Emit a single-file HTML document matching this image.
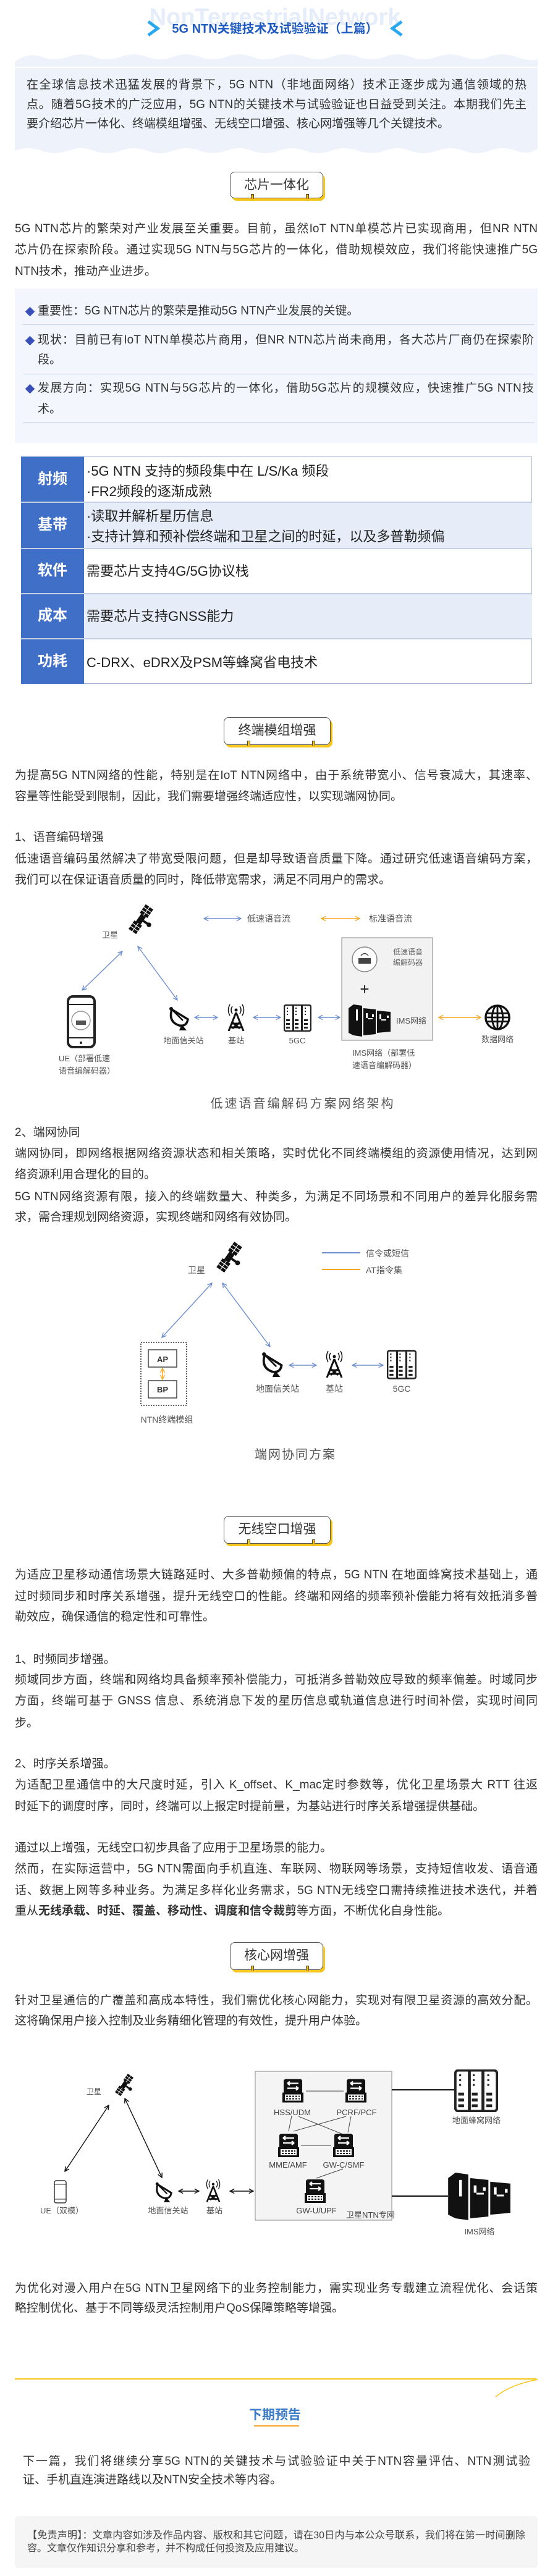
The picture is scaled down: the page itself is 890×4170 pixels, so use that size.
<!DOCTYPE html>
<html><head><meta charset="utf-8">
<style>
*{margin:0;padding:0;box-sizing:border-box}
html,body{width:890px;height:4170px;background:#fff;overflow:hidden}
body{position:relative;font-family:"Liberation Sans","Noto Sans CJK SC",sans-serif;color:#333}
.l{position:absolute;left:24px;width:846px;font-size:19px;line-height:34px;height:34px;white-space:normal;overflow:hidden}
.j{text-align:justify;text-align-last:justify}
.hd{position:absolute;background:#fff;border:1.5px solid #555;border-radius:8px;box-shadow:3px 4px 0 #f6c61c;font-size:21px;color:#333;text-align:center;line-height:42px}
.tab{position:absolute;bottom:-2px;width:5px;height:8px;background:#f6c61c;border:1px solid #444;border-bottom:none}
.sep{position:absolute;left:37px;width:827px;height:1px;background:#c6d6ea}
.dia{position:absolute;left:43px;width:11px;height:11px;background:#3a4fb8;transform:rotate(45deg)}
</style></head><body>

<div style="position:absolute;left:0;width:890px;top:8px;text-align:center;font:bold 38px 'Liberation Sans',sans-serif;color:#e5edfb;line-height:40px">NonTerrestrialNetwork</div>
<div style="position:absolute;left:0;width:890px;top:34px;text-align:center;font-weight:bold;font-size:20px;color:#1f5bc0;line-height:26px">5G NTN关键技术及试验验证（上篇）</div>
<svg style="position:absolute;left:0;top:0" width="890" height="260">
 <polyline points="240,35 255,46 240,57" fill="none" stroke="#29a8f0" stroke-width="5"/>
 <polyline points="650,35 635,46 650,57" fill="none" stroke="#29a8f0" stroke-width="5"/>
 <path d="M24,100 Q45,84 67,92 Q88,100 110,92 Q131,84 152,92 Q174,100 195,92 Q216,84 238,92 Q259,100 280,92 Q302,84 323,92 Q344,100 366,92 Q387,84 408,92 Q430,100 451,92 Q472,84 494,92 Q515,100 536,92 Q558,84 579,92 Q600,100 622,92 Q643,84 664,92 Q686,100 707,92 Q728,84 750,92 Q771,100 792,92 Q814,84 835,92 Q856,100 870,96 L870,108 L24,108 Z" fill="#eef3fb"/>
 <rect x="24" y="110" width="846" height="127" fill="#eef3fb"/>
 <path d="M24,237 L870,237 L870,240 Q856,252 835,244 Q814,236 792,244 Q771,252 750,244 Q728,236 707,244 Q686,252 664,244 Q643,236 622,244 Q600,252 579,244 Q558,236 536,244 Q515,252 494,244 Q472,236 451,244 Q430,252 408,244 Q387,236 366,244 Q344,252 323,244 Q302,236 280,244 Q259,252 238,244 Q216,236 195,244 Q174,252 152,244 Q131,236 110,244 Q88,252 67,244 Q45,236 24,244 Z" fill="#eef3fb"/>
</svg>
<div class="l j" style="left:43px;width:809px;top:121px">在全球信息技术迅猛发展的背景下，5G NTN（非地面网络）技术正逐步成为通信领域的热</div>
<div class="l j" style="left:43px;width:809px;top:153px">点。随着5G技术的广泛应用，5G NTN的关键技术与试验验证也日益受到关注。本期我们先主</div>
<div class="l" style="left:43px;width:809px;top:184px">要介绍芯片一体化、终端模组增强、无线空口增强、核心网增强等几个关键技术。</div>

<div class="hd" style="left:372px;top:278px;width:151px;height:43px">芯片一体化<div class="tab" style="left:33px"></div><div class="tab" style="left:122px"></div></div>

<div class="l j" style="top:354px">5G NTN芯片的繁荣对产业发展至关重要。目前，虽然IoT NTN单模芯片已实现商用，但NR NTN</div>
<div class="l j" style="top:388px">芯片仍在探索阶段。通过实现5G NTN与5G芯片的一体化，借助规模效应，我们将能快速推广5G</div>
<div class="l" style="top:423px">NTN技术，推动产业进步。</div>

<div style="position:absolute;left:24px;top:467px;width:846px;height:250px;background:#f3f7fd"></div>
<div class="dia" style="top:499px"></div>
<div class="l" style="left:61px;width:803px;top:487px">重要性：5G NTN芯片的繁荣是推动5G NTN产业发展的关键。</div>
<div class="sep" style="top:525px"></div>
<div class="dia" style="top:546px"></div>
<div class="l j" style="left:61px;width:803px;top:534px">现状：目前已有IoT NTN单模芯片商用，但NR NTN芯片尚未商用，各大芯片厂商仍在探索阶</div>
<div class="l" style="left:61px;width:803px;top:566px">段。</div>
<div class="sep" style="top:605px"></div>
<div class="dia" style="top:624px"></div>
<div class="l j" style="left:61px;width:803px;top:612px">发展方向：实现5G NTN与5G芯片的一体化，借助5G芯片的规模效应，快速推广5G NTN技</div>
<div class="l" style="left:61px;width:803px;top:646px">术。</div>
<div class="sep" style="top:683px"></div>

<div style="position:absolute;left:34px;top:739px;width:827px;height:368px;border:1.5px solid #9fb2d3"></div>
<div style="position:absolute;left:34px;top:739px;width:102px;height:368px;background:#3f6fc6"></div>
<div style="position:absolute;left:136px;top:812px;width:725px;height:75px;background:#e6edf8"></div>
<div style="position:absolute;left:136px;top:960px;width:725px;height:73px;background:#e6edf8"></div>
<div style="position:absolute;left:34px;top:812px;width:827px;height:2px;background:#c3d0e6"></div>
<div style="position:absolute;left:34px;top:887px;width:827px;height:2px;background:#c3d0e6"></div>
<div style="position:absolute;left:34px;top:960px;width:827px;height:2px;background:#c3d0e6"></div>
<div style="position:absolute;left:34px;top:1033px;width:827px;height:2px;background:#c3d0e6"></div>
<div style="position:absolute;left:34px;width:102px;top:758px;text-align:center;color:#fff;font-weight:bold;font-size:24px;line-height:36px">射频</div>
<div style="position:absolute;left:34px;width:102px;top:832px;text-align:center;color:#fff;font-weight:bold;font-size:24px;line-height:36px">基带</div>
<div style="position:absolute;left:34px;width:102px;top:906px;text-align:center;color:#fff;font-weight:bold;font-size:24px;line-height:36px">软件</div>
<div style="position:absolute;left:34px;width:102px;top:979px;text-align:center;color:#fff;font-weight:bold;font-size:24px;line-height:36px">成本</div>
<div style="position:absolute;left:34px;width:102px;top:1053px;text-align:center;color:#fff;font-weight:bold;font-size:24px;line-height:36px">功耗</div>
<div style="position:absolute;left:140px;top:746px;font-size:22px;line-height:33px;color:#222">·5G NTN 支持的频段集中在 L/S/Ka 频段<br>·FR2频段的逐渐成熟</div>
<div style="position:absolute;left:140px;top:819px;font-size:22px;line-height:33px;color:#222">·读取并解析星历信息<br>·支持计算和预补偿终端和卫星之间的时延，以及多普勒频偏</div>
<div style="position:absolute;left:140px;top:908px;font-size:22px;line-height:33px;color:#222">需要芯片支持4G/5G协议栈</div>
<div style="position:absolute;left:140px;top:981px;font-size:22px;line-height:33px;color:#222">需要芯片支持GNSS能力</div>
<div style="position:absolute;left:140px;top:1056px;font-size:22px;line-height:33px;color:#222">C-DRX、eDRX及PSM等蜂窝省电技术</div>

<div class="hd" style="left:362px;top:1161px;width:173px;height:45px">终端模组增强<div class="tab" style="left:37px"></div><div class="tab" style="left:142px"></div></div>
<div class="l j" style="top:1239px">为提高5G NTN网络的性能，特别是在IoT NTN网络中，由于系统带宽小、信号衰减大，其速率、</div>
<div class="l" style="top:1273px">容量等性能受到限制，因此，我们需要增强终端适应性，以实现端网协同。</div>
<div class="l" style="top:1339px">1、语音编码增强</div>
<div class="l j" style="top:1374px">低速语音编码虽然解决了带宽受限问题，但是却导致语音质量下降。通过研究低速语音编码方案，</div>
<div class="l" style="top:1408px">我们可以在保证语音质量的同时，降低带宽需求，满足不同用户的需求。</div>
<div style="position:absolute;left:0;width:980px;top:1770px;text-align:center;font-size:20px;letter-spacing:3px;color:#555">低速语音编解码方案网络架构</div>
<div class="l" style="top:1817px">2、端网协同</div>
<div class="l j" style="top:1851px">端网协同，即网络根据网络资源状态和相关策略，实时优化不同终端模组的资源使用情况，达到网</div>
<div class="l" style="top:1885px">络资源利用合理化的目的。</div>
<div class="l j" style="top:1921px">5G NTN网络资源有限，接入的终端数量大、种类多，为满足不同场景和不同用户的差异化服务需</div>
<div class="l" style="top:1954px">求，需合理规划网络资源，实现终端和网络有效协同。</div>
<div style="position:absolute;left:0;width:956px;top:2338px;text-align:center;font-size:20px;letter-spacing:2px;color:#555">端网协同方案</div>

<div class="hd" style="left:362px;top:2454px;width:173px;height:45px">无线空口增强<div class="tab" style="left:37px"></div><div class="tab" style="left:142px"></div></div>
<div class="l j" style="top:2533px">为适应卫星移动通信场景大链路延时、大多普勒频偏的特点，5G NTN 在地面蜂窝技术基础上，通</div>
<div class="l j" style="top:2568px">过时频同步和时序关系增强，提升无线空口的性能。终端和网络的频率预补偿能力将有效抵消多普</div>
<div class="l" style="top:2601px">勒效应，确保通信的稳定性和可靠性。</div>
<div class="l" style="top:2670px">1、时频同步增强。</div>
<div class="l j" style="top:2703px">频域同步方面，终端和网络均具备频率预补偿能力，可抵消多普勒效应导致的频率偏差。时域同步</div>
<div class="l j" style="top:2737px">方面，终端可基于 GNSS 信息、系统消息下发的星历信息或轨道信息进行时间补偿，实现时间同</div>
<div class="l" style="top:2773px">步。</div>
<div class="l" style="top:2839px">2、时序关系增强。</div>
<div class="l j" style="top:2873px">为适配卫星通信中的大尺度时延，引入 K_offset、K_mac定时参数等，优化卫星场景大 RTT 往返</div>
<div class="l" style="top:2908px">时延下的调度时序，同时，终端可以上报定时提前量，为基站进行时序关系增强提供基础。</div>
<div class="l" style="top:2975px">通过以上增强，无线空口初步具备了应用于卫星场景的能力。</div>
<div class="l j" style="top:3009px">然而，在实际运营中，5G NTN需面向手机直连、车联网、物联网等场景，支持短信收发、语音通</div>
<div class="l j" style="top:3044px">话、数据上网等多种业务。为满足多样化业务需求，5G NTN无线空口需持续推进技术迭代，并着</div>
<div class="l" style="top:3077px">重从<b>无线承载、时延、覆盖、移动性、调度和信令裁剪</b>等方面，不断优化自身性能。</div>

<div class="hd" style="left:372px;top:3144px;width:151px;height:45px">核心网增强<div class="tab" style="left:33px"></div><div class="tab" style="left:122px"></div></div>
<div class="l j" style="top:3222px">针对卫星通信的广覆盖和高成本特性，我们需优化核心网能力，实现对有限卫星资源的高效分配。</div>
<div class="l" style="top:3255px">这将确保用户接入控制及业务精细化管理的有效性，提升用户体验。</div>
<div class="l j" style="top:3688px">为优化对漫入用户在5G NTN卫星网络下的业务控制能力，需实现业务专载建立流程优化、会话策</div>
<div class="l" style="top:3720px">略控制优化、基于不同等级灵活控制用户QoS保障策略等增强。</div>

<div style="position:absolute;left:0;width:890px;top:3896px;text-align:center;font-weight:bold;font-size:21px;color:#3d7cc9;line-height:28px">下期预告</div>
<div style="position:absolute;left:411px;top:3926px;width:73px;height:2px;background:#f5a623"></div>
<div class="l j" style="left:37px;width:821px;top:3968px">下一篇，我们将继续分享5G NTN的关键技术与试验验证中关于NTN容量评估、NTN测试验</div>
<div class="l" style="left:37px;width:821px;top:3998px">证、手机直连演进路线以及NTN安全技术等内容。</div>
<div style="position:absolute;left:24px;top:4073px;width:846px;height:84px;background:#f5f5f5;border-radius:6px"></div>
<div class="l j" style="left:44px;width:806px;top:4094px;font-size:16px;line-height:22px;height:22px;color:#444">【免责声明】：文章内容如涉及作品内容、版权和其它问题，请在30日内与本公众号联系，我们将在第一时间删除内</div>
<div class="l" style="left:44px;width:806px;top:4115px;font-size:16px;line-height:22px;height:22px;color:#444">容。文章仅作知识分享和参考，并不构成任何投资及应用建议。</div>

<svg style="position:absolute;left:0;top:0" width="890" height="4170" font-family="Liberation Sans,Noto Sans CJK SC,sans-serif">
<defs>
 <marker id="ab" viewBox="0 0 10 10" refX="9" refY="5" markerWidth="9" markerHeight="9" orient="auto-start-reverse" markerUnits="userSpaceOnUse"><path d="M1,1 L9,5 L1,9" fill="none" stroke="#6d8fd0" stroke-width="1.5"/></marker>
 <marker id="ao" viewBox="0 0 10 10" refX="9" refY="5" markerWidth="9" markerHeight="9" orient="auto-start-reverse" markerUnits="userSpaceOnUse"><path d="M1,1 L9,5 L1,9" fill="none" stroke="#f5a623" stroke-width="1.5"/></marker>
 <marker id="ak" viewBox="0 0 10 10" refX="9" refY="5" markerWidth="9" markerHeight="9" orient="auto-start-reverse" markerUnits="userSpaceOnUse"><path d="M1,1 L9,5 L1,9" fill="none" stroke="#111" stroke-width="1.6"/></marker>
 <symbol id="sat" viewBox="-30 -30 60 60">
  <g transform="rotate(-55)" fill="#111">
   <rect x="-26" y="-8" width="18" height="16"/><rect x="8" y="-8" width="18" height="16"/>
   <rect x="-8" y="-5" width="16" height="10"/>
   <g stroke="#fff" stroke-width="1.2"><line x1="-20" y1="-8" x2="-20" y2="8"/><line x1="-14" y1="-8" x2="-14" y2="8"/><line x1="-26" y1="0" x2="-8" y2="0"/><line x1="14" y1="-8" x2="14" y2="8"/><line x1="20" y1="-8" x2="20" y2="8"/><line x1="8" y1="0" x2="26" y2="0"/></g>
   <rect x="-2" y="5" width="4" height="10"/><circle cx="0" cy="17" r="4"/>
  </g>
 </symbol>
 <symbol id="dish" viewBox="0 0 40 40">
  <path d="M6,6 Q0,26 18,32 Q30,34 32,22 Z" fill="#fff" stroke="#111" stroke-width="3.5"/>
  <line x1="6" y1="6" x2="24" y2="24" stroke="#111" stroke-width="2.5"/><circle cx="5" cy="5" r="3" fill="#111"/>
  <path d="M22,30 L30,40 L18,40 Z" fill="#111"/>
 </symbol>
 <symbol id="tower" viewBox="0 0 40 44">
  <path d="M20,14 L8,44 M20,14 L32,44 M13,32 L27,32 M11,38 L29,38 M14,30 L26,40 M26,30 L14,40" stroke="#111" stroke-width="3" fill="none"/>
  <path d="M14,4 Q10,10 14,16 M26,4 Q30,10 26,16 M10,1 Q5,10 10,19 M30,1 Q35,10 30,19" stroke="#111" stroke-width="1.5" fill="none"/>
  <circle cx="20" cy="10" r="2.5" fill="#111"/>
 </symbol>
 <symbol id="rack" viewBox="0 0 45 44">
  <rect x="1" y="1" width="43" height="42" rx="3" fill="#fff" stroke="#222" stroke-width="2.5"/>
  <g fill="#222"><rect x="14" y="1" width="3" height="42"/><rect x="28" y="1" width="3" height="42"/>
  <rect x="5" y="5" width="2" height="2"/><rect x="5" y="10" width="2" height="2"/><rect x="5" y="15" width="2" height="2"/><rect x="19" y="5" width="2" height="2"/><rect x="19" y="10" width="2" height="2"/><rect x="19" y="15" width="2" height="2"/><rect x="34" y="5" width="2" height="2"/><rect x="34" y="10" width="2" height="2"/><rect x="34" y="15" width="2" height="2"/>
  <rect x="4" y="24" width="6" height="3"/><rect x="4" y="30" width="6" height="3"/><rect x="4" y="36" width="6" height="3"/><rect x="18" y="24" width="6" height="3"/><rect x="18" y="30" width="6" height="3"/><rect x="18" y="36" width="6" height="3"/><rect x="33" y="24" width="6" height="3"/><rect x="33" y="30" width="6" height="3"/><rect x="33" y="36" width="6" height="3"/></g>
 </symbol>
 <symbol id="ims" viewBox="0 0 70 52">
  <path d="M0,6 L8,0 L22,2 L22,52 L8,50 L0,46 Z" fill="#111"/>
  <path d="M24,6 L44,8 L44,48 L24,50 Z" fill="#111"/>
  <path d="M46,10 L68,12 L68,44 L46,46 Z" fill="#111"/>
  <g fill="#fff"><rect x="12" y="8" width="3" height="18"/><rect x="28" y="14" width="3" height="8"/><rect x="31" y="22" width="8" height="2"/><rect x="50" y="16" width="3" height="8"/><rect x="53" y="24" width="8" height="2"/><rect x="62" y="18" width="3" height="4"/><rect x="38" y="16" width="3" height="4"/></g>
 </symbol>
 <symbol id="globe" viewBox="0 0 44 44">
  <circle cx="22" cy="22" r="20" fill="#fff" stroke="#111" stroke-width="3.5"/>
  <ellipse cx="22" cy="22" rx="9" ry="20" fill="none" stroke="#111" stroke-width="3"/>
  <line x1="22" y1="2" x2="22" y2="42" stroke="#111" stroke-width="3"/>
  <path d="M3,15 H41 M2,22 H42 M3,29 H41" stroke="#111" stroke-width="3"/>
 </symbol>
 <symbol id="sw" viewBox="0 0 38 38">
  <path d="M4,4 Q4,0 8,0 L30,0 Q34,0 34,4 L34,22 L4,22 Z" fill="#111"/>
  <rect x="2" y="22" width="34" height="16" fill="#111"/>
  <rect x="6" y="25" width="26" height="10" fill="#fff"/>
  <g fill="#111"><rect x="8" y="27" width="3" height="2"/><rect x="13" y="27" width="3" height="2"/><rect x="18" y="27" width="3" height="2"/><rect x="23" y="27" width="3" height="2"/><rect x="28" y="27" width="2" height="2"/><rect x="8" y="31" width="3" height="2"/><rect x="13" y="31" width="3" height="2"/><rect x="18" y="31" width="3" height="2"/><rect x="23" y="31" width="3" height="2"/><rect x="28" y="31" width="2" height="2"/></g>
  <path d="M10,7 H28 M10,7 L14,4 M10,7 L14,10 M10,15 H28 M28,15 L24,12 M28,15 L24,18" stroke="#fff" stroke-width="2.2" fill="none"/>
 </symbol>
</defs>

<use href="#sat" x="200" y="1458" width="56" height="60"/>
<text x="178" y="1518" font-size="13" fill="#555" text-anchor="middle">卫星</text>
<line x1="330" y1="1487" x2="390" y2="1487" stroke="#6d8fd0" stroke-width="1.6" marker-start="url(#ab)" marker-end="url(#ab)"/>
<text x="400" y="1492" font-size="14" fill="#555">低速语音流</text>
<line x1="520" y1="1487" x2="582" y2="1487" stroke="#f5a623" stroke-width="1.6" marker-start="url(#ao)" marker-end="url(#ao)"/>
<text x="597" y="1492" font-size="14" fill="#555">标准语音流</text>
<line x1="198" y1="1540" x2="133" y2="1603" stroke="#6d8fd0" stroke-width="1.4" marker-start="url(#ab)" marker-end="url(#ab)"/>
<line x1="223" y1="1532" x2="287" y2="1619" stroke="#6d8fd0" stroke-width="1.4" marker-start="url(#ab)" marker-end="url(#ab)"/>
<rect x="110" y="1613" width="43" height="82" rx="8" fill="#fff" stroke="#222" stroke-width="4"/>
<line x1="112" y1="1626" x2="151" y2="1626" stroke="#222" stroke-width="2"/><line x1="112" y1="1680" x2="151" y2="1680" stroke="#222" stroke-width="2"/>
<circle cx="131" cy="1688" r="2" fill="#222"/>
<circle cx="131" cy="1652" r="15" fill="#fff" stroke="#999" stroke-width="1.5"/>
<rect x="123" y="1652" width="16" height="7" fill="#555"/>
<text x="95" y="1718" font-size="13" fill="#555">UE（部署低速</text>
<text x="95" y="1738" font-size="13" fill="#555">语音编解码器）</text>
<use href="#dish" x="272" y="1628" width="40" height="40"/>
<use href="#tower" x="362" y="1625" width="40" height="44"/>
<use href="#rack" x="459" y="1626" width="45" height="44"/>
<line x1="315" y1="1647" x2="352" y2="1647" stroke="#6d8fd0" stroke-width="1.4" marker-start="url(#ab)" marker-end="url(#ab)"/>
<line x1="410" y1="1647" x2="454" y2="1647" stroke="#6d8fd0" stroke-width="1.4" marker-start="url(#ab)" marker-end="url(#ab)"/>
<line x1="515" y1="1647" x2="550" y2="1647" stroke="#6d8fd0" stroke-width="1.4" marker-start="url(#ab)" marker-end="url(#ab)"/>
<text x="297" y="1689" font-size="13" fill="#555" text-anchor="middle">地面信关站</text>
<text x="382" y="1689" font-size="13" fill="#555" text-anchor="middle">基站</text>
<text x="481" y="1689" font-size="13" fill="#555" text-anchor="middle">5GC</text>
<rect x="553" y="1518" width="147" height="166" fill="#f2f2f2" stroke="#999" stroke-width="1.2"/>
<circle cx="590" cy="1553" r="20" fill="#fff" stroke="#888" stroke-width="1.5"/>
<rect x="580" y="1551" width="20" height="9" fill="#444"/>
<path d="M584,1547 Q590,1540 596,1547" fill="none" stroke="#444" stroke-width="1.5"/>
<text x="636" y="1545" font-size="12" fill="#666">低速语音</text>
<text x="636" y="1562" font-size="12" fill="#666">编解码器</text>
<text x="590" y="1610" font-size="26" fill="#222" text-anchor="middle">+</text>
<use href="#ims" x="564" y="1626" width="70" height="52"/>
<text x="641" y="1657" font-size="13" fill="#555">IMS网络</text>
<text x="570" y="1709" font-size="13" fill="#555">IMS网络（部署低</text>
<text x="570" y="1729" font-size="13" fill="#555">速语音编解码器）</text>
<line x1="710" y1="1647" x2="778" y2="1647" stroke="#f5a623" stroke-width="1.6" marker-start="url(#ao)" marker-end="url(#ao)"/>
<use href="#globe" x="784" y="1626" width="42" height="42"/>
<text x="805" y="1687" font-size="13" fill="#555" text-anchor="middle">数据网络</text>

<use href="#sat" x="342" y="2004" width="58" height="62"/>
<text x="318" y="2061" font-size="14" fill="#555" text-anchor="middle">卫星</text>
<line x1="521" y1="2028" x2="583" y2="2028" stroke="#6d8fd0" stroke-width="2"/>
<text x="592" y="2034" font-size="14" fill="#555">信令或短信</text>
<line x1="521" y1="2055" x2="583" y2="2055" stroke="#f5a623" stroke-width="2"/>
<text x="592" y="2061" font-size="14" fill="#555">AT指令集</text>
<line x1="343" y1="2077" x2="262" y2="2165" stroke="#6d8fd0" stroke-width="1.4" marker-start="url(#ab)" marker-end="url(#ab)"/>
<line x1="360" y1="2077" x2="437" y2="2180" stroke="#6d8fd0" stroke-width="1.4" marker-start="url(#ab)" marker-end="url(#ab)"/>
<rect x="228" y="2173" width="74" height="102" fill="none" stroke="#333" stroke-width="1.6" stroke-dasharray="2,2"/>
<rect x="240" y="2185" width="46" height="28" fill="#fff" stroke="#444" stroke-width="1.5"/>
<text x="263" y="2205" font-size="13" fill="#333" text-anchor="middle" font-weight="bold">AP</text>
<rect x="240" y="2235" width="46" height="28" fill="#fff" stroke="#444" stroke-width="1.5"/>
<text x="263" y="2254" font-size="13" fill="#333" text-anchor="middle" font-weight="bold">BP</text>
<line x1="263" y1="2215" x2="263" y2="2233" stroke="#f5a623" stroke-width="1.5" marker-start="url(#ao)" marker-end="url(#ao)"/>
<text x="270" y="2303" font-size="14" fill="#555" text-anchor="middle">NTN终端模组</text>
<use href="#dish" x="422" y="2186" width="42" height="44"/>
<use href="#tower" x="521" y="2185" width="40" height="46"/>
<use href="#rack" x="626" y="2185" width="48" height="48"/>
<line x1="468" y1="2210" x2="512" y2="2210" stroke="#6d8fd0" stroke-width="1.4" marker-start="url(#ab)" marker-end="url(#ab)"/>
<line x1="570" y1="2210" x2="620" y2="2210" stroke="#6d8fd0" stroke-width="1.4" marker-start="url(#ab)" marker-end="url(#ab)"/>
<text x="449" y="2253" font-size="14" fill="#555" text-anchor="middle">地面信关站</text>
<text x="541" y="2253" font-size="14" fill="#555" text-anchor="middle">基站</text>
<text x="650" y="2253" font-size="14" fill="#555" text-anchor="middle">5GC</text>

<use href="#sat" x="180" y="3352" width="42" height="46"/>
<text x="152" y="3390" font-size="12" fill="#555" text-anchor="middle">卫星</text>
<line x1="176" y1="3408" x2="105" y2="3515" stroke="#111" stroke-width="1.4" marker-start="url(#ak)" marker-end="url(#ak)"/>
<line x1="202" y1="3397" x2="262" y2="3525" stroke="#111" stroke-width="1.4" marker-start="url(#ak)" marker-end="url(#ak)"/>
<rect x="88" y="3530" width="19" height="36" rx="3" fill="#fff" stroke="#333" stroke-width="1.5"/>
<line x1="88" y1="3536" x2="107" y2="3536" stroke="#333"/><line x1="88" y1="3560" x2="107" y2="3560" stroke="#333"/>
<text x="100" y="3583" font-size="13" fill="#555" text-anchor="middle">UE（双模）</text>
<use href="#dish" x="250" y="3529" width="34" height="38"/>
<use href="#tower" x="328" y="3526" width="34" height="40"/>
<line x1="289" y1="3547" x2="322" y2="3547" stroke="#111" stroke-width="1.4" marker-start="url(#ak)" marker-end="url(#ak)"/>
<line x1="372" y1="3547" x2="410" y2="3547" stroke="#111" stroke-width="1.4" marker-start="url(#ak)" marker-end="url(#ak)"/>
<text x="272" y="3583" font-size="13" fill="#555" text-anchor="middle">地面信关站</text>
<text x="347" y="3583" font-size="13" fill="#555" text-anchor="middle">基站</text>
<rect x="413" y="3353" width="221" height="241" fill="#f4f4f4" stroke="#999" stroke-width="1.2"/>
<g stroke="#444" stroke-width="1">
 <line x1="495" y1="3385" x2="556" y2="3385"/>
 <line x1="472" y1="3425" x2="467" y2="3450"/><line x1="483" y1="3426" x2="555" y2="3455"/>
 <line x1="560" y1="3426" x2="475" y2="3450"/><line x1="568" y1="3426" x2="563" y2="3452"/>
 <line x1="487" y1="3473" x2="536" y2="3473"/><line x1="555" y1="3511" x2="512" y2="3526"/>
</g>
<use href="#sw" x="455" y="3365" width="38" height="39"/>
<use href="#sw" x="557" y="3365" width="38" height="39"/>
<use href="#sw" x="448" y="3454" width="38" height="38"/>
<use href="#sw" x="537" y="3454" width="38" height="38"/>
<use href="#sw" x="491" y="3528" width="38" height="38"/>
<text x="473" y="3424" font-size="13" fill="#444" text-anchor="middle">HSS/UDM</text>
<text x="577" y="3424" font-size="13" fill="#444" text-anchor="middle">PCRF/PCF</text>
<text x="466" y="3509" font-size="13" fill="#444" text-anchor="middle">MME/AMF</text>
<text x="556" y="3509" font-size="13" fill="#444" text-anchor="middle">GW-C/SMF</text>
<text x="512" y="3583" font-size="13" fill="#444" text-anchor="middle">GW-U/UPF</text>
<text x="560" y="3590" font-size="13" fill="#444">卫星NTN专网</text>
<line x1="634" y1="3383" x2="735" y2="3383" stroke="#111" stroke-width="2"/>
<line x1="634" y1="3555" x2="725" y2="3555" stroke="#111" stroke-width="2"/>
<use href="#rack" x="735" y="3350" width="71" height="69" preserveAspectRatio="none"/>
<text x="771" y="3437" font-size="13" fill="#555" text-anchor="middle">地面蜂窝网络</text>
<use href="#ims" x="725" y="3517" width="104" height="77" preserveAspectRatio="none"/>
<text x="776" y="3617" font-size="13" fill="#555" text-anchor="middle">IMS网络</text>

<line x1="24" y1="3851" x2="868" y2="3851" stroke="#f6c61c" stroke-width="2"/>
<path d="M870,3852 Q826,3860 802,3880" fill="none" stroke="#f6c61c" stroke-width="1.5"/>
</svg>
</body></html>
